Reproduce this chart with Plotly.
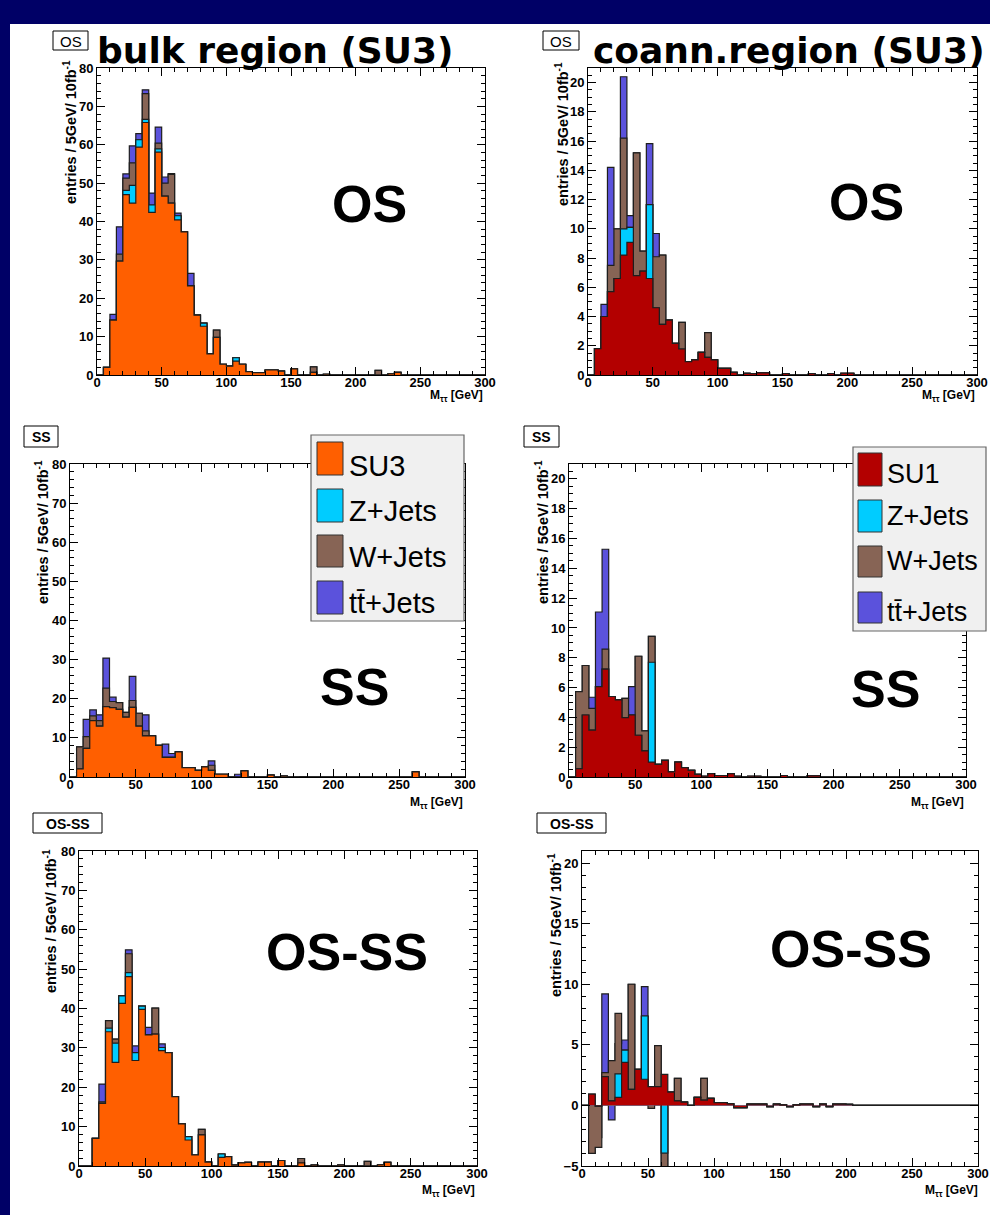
import plotly.graph_objects as go

FIG_W, FIG_H = 990, 1215

# 5 GeV bins from 0 to 300 GeV (61 edges, 60 bins)
BIN_EDGES = [5 * i for i in range(61)]

# ---------------- bulk region (SU3), OS ----------------
bulk_os_su3 = [0, 2.0, 14.3, 29.7, 47.0, 44.8, 59.4, 65.8, 42.4, 58.1,
               46.6, 44.8, 40.4, 37.3, 23.2, 15.6, 12.7, 5.5, 9.8, 2.8,
               2.3, 3.6, 2.8, 0.9, 0.6, 0.6, 1.3, 1.3, 1.0, 0,
               1.6, 0, 0, 0.7, 0, 0.2, 0, 0, 0, 0,
               0, 0, 0, 0, 0, 0.3, 0.7, 0, 0, 0,
               0, 0, 0, 0, 0, 0, 0, 0, 0, 0]
bulk_os_zjets = [0, 0, 0, 0, 1.1, 4.6, 1.9, 0.8, 1.9, 0.8,
                 0, 0, 1.1, 0, 0, 0, 0.8, 0, 0, 0,
                 0, 0.9, 0, 0, 0, 0, 0, 0, 0, 0,
                 0, 0, 0, 0, 0, 0, 0, 0, 0, 0,
                 0, 0, 0, 0, 0, 0, 0, 0, 0, 0,
                 0, 0, 0, 0, 0, 0, 0, 0, 0, 0]
bulk_os_wjets = [0, 0, 0, 1.8, 3.2, 5.9, 0, 6.7, 0, 1.5,
                 3.4, 7.5, 0, 0, 0, 0, 0, 0, 1.9, 0,
                 0, 0, 0, 0, 0, 0, 0, 0, 0, 0,
                 0, 0, 0, 1.4, 0, 0, 0, 0, 0, 0,
                 0, 0, 0, 1.2, 0, 0, 0, 0, 0, 0,
                 0, 0, 0, 0, 0, 0, 0, 0, 0, 0]
bulk_os_ttjets = [0, 0, 1.5, 7.1, 1.1, 4.4, 1.6, 1.0, 3.1, 4.2,
                  1.6, 0.2, 0.7, 0, 3.3, 0, 0, 0, 0, 0,
                  0, 0, 0, 0, 0, 0, 0, 0, 0, 0,
                  0, 0, 0, 0, 0, 0, 0, 0, 0, 0,
                  0, 0, 0, 0, 0, 0, 0, 0, 0, 0,
                  0, 0, 0, 0, 0, 0, 0, 0, 0, 0]

# ---------------- coann. region, OS ----------------
coann_os_su1 = [0, 1.8, 4.0, 5.7, 6.6, 8.2, 9.07, 6.8, 7.1, 6.6,
                4.6, 3.46, 3.76, 2.16, 1.78, 0.91, 1.03, 1.55, 1.2, 1.03,
                0.46, 0.46, 0.18, 0, 0.11, 0.1, 0.15, 0.15, 0, 0,
                0.1, 0, 0, 0, 0.1, 0, 0, 0.1, 0, 0.12,
                0.12, 0, 0, 0, 0, 0, 0, 0, 0, 0,
                0, 0, 0, 0, 0, 0, 0, 0, 0, 0]
coann_os_zjets = [0, 0, 0, 0, 0, 1.8, 1.03, 0, 0, 5.06,
                  0, 0, 0, 0, 0, 0, 0, 0, 0, 0,
                  0, 0, 0, 0, 0, 0, 0, 0, 0, 0,
                  0, 0, 0, 0, 0, 0, 0, 0, 0, 0,
                  0, 0, 0, 0, 0, 0, 0, 0, 0, 0,
                  0, 0, 0, 0, 0, 0, 0, 0, 0, 0]
coann_os_wjets = [0, 0, 0, 1.8, 3.4, 6.2, 0, 8.4, 1.37, 0,
                  3.49, 4.74, 0, 0, 1.82, 0, 0, 0, 1.7, 0,
                  0, 0, 0, 0, 0, 0, 0, 0, 0, 0,
                  0, 0, 0, 0, 0, 0, 0, 0, 0, 0,
                  0, 0, 0, 0, 0, 0, 0, 0, 0, 0,
                  0, 0, 0, 0, 0, 0, 0, 0, 0, 0]
coann_os_ttjets = [0, 0, 0.83, 6.7, 0, 4.2, 0.8, 0, 0, 4.17,
                   1.59, 0, 0, 0, 0, 0, 0, 0, 0, 0,
                   0, 0, 0, 0, 0, 0, 0, 0, 0, 0,
                   0, 0, 0, 0, 0, 0, 0, 0, 0, 0,
                   0, 0, 0, 0, 0, 0, 0, 0, 0, 0,
                   0, 0, 0, 0, 0, 0, 0, 0, 0, 0]

# ---------------- bulk region, SS ----------------
bulk_ss_su3 = [0, 2.1, 7.3, 14.4, 13.0, 18.0, 17.75, 17.3, 15.3, 17.8,
               13.0, 10.5, 10.5, 8.1, 5.0, 5.0, 6.4, 2.4, 2.4, 1.7,
               2.6, 1.7, 0.7, 0.7, 0, 0, 1.55, 0, 0, 0,
               0.5, 0, 0.2, 0, 0, 0.1, 0, 0, 0, 0,
               0, 0, 0, 0, 0, 0, 0, 0, 0, 0,
               0, 0, 1.3, 0, 0, 0, 0, 0, 0, 0]
bulk_ss_zjets = [0, 0, 0, 0, 0, 0, 0, 0, 0, 0,
                 0, 0, 0, 0, 0, 0, 0, 0, 0, 0,
                 0, 0, 0, 0, 0, 0, 0, 0, 0, 0,
                 0, 0, 0, 0, 0, 0, 0, 0, 0, 0,
                 0, 0, 0, 0, 0, 0, 0, 0, 0, 0,
                 0, 0, 0, 0, 0, 0, 0, 0, 0, 0]
bulk_ss_wjets = [0, 5.6, 3.0, 1.2, 1.4, 4.7, 1.55, 1.7, 1.2, 1.75,
                 3.3, 1.3, 0, 0, 0, 0, 0, 0, 0, 0,
                 0, 1.3, 0, 0, 0, 0, 0, 0, 0, 0,
                 0, 0, 0, 0, 0, 0, 0, 0, 0, 0,
                 0, 0, 0, 0, 0, 0, 0, 0, 0, 0,
                 0, 0, 0, 0, 0, 0, 0, 0, 0, 0]
bulk_ss_ttjets = [0, 0, 4.45, 1.55, 1.5, 7.7, 1.1, 0, 0, 6.15,
                  0, 4.1, 0, 0, 3.4, 1.0, 0, 0, 0, 0,
                  0, 1.1, 0, 0, 0, 0.7, 0, 0, 0, 0,
                  0, 0, 0, 0, 0, 0, 0, 0, 0, 0,
                  0, 0, 0, 0, 0, 0, 0, 0, 0, 0,
                  0, 0, 0, 0, 0, 0, 0, 0, 0, 0]

# ---------------- coann. region, SS ----------------
coann_ss_su1 = [0, 0.56, 4.16, 3.15, 6.07, 7.24, 5.4, 5.17, 3.98, 4.16,
                2.8, 1.75, 1.0, 0.85, 1.12, 0.34, 1.0, 0.63, 0.45, 0.18,
                0.05, 0.22, 0.1, 0.1, 0.22, 0.05, 0, 0.05, 0.05, 0,
                0, 0, 0.1, 0, 0, 0, 0.08, 0.08, 0, 0,
                0, 0, 0, 0, 0, 0, 0, 0, 0, 0,
                0, 0, 0, 0, 0, 0, 0, 0, 0, 0]
coann_ss_zjets = [0, 0, 0, 0, 0, 0, 0, 0, 0, 0,
                  0, 0, 6.7, 0, 0, 0, 0, 0, 0, 0,
                  0, 0, 0, 0, 0, 0, 0, 0, 0, 0,
                  0, 0, 0, 0, 0, 0, 0, 0, 0, 0,
                  0, 0, 0, 0, 0, 0, 0, 0, 0, 0,
                  0, 0, 0, 0, 0, 0, 0, 0, 0, 0]
coann_ss_wjets = [0, 5.17, 3.32, 1.45, 0, 1.34, 0, 0, 1.3, 0,
                  5.3, 1.35, 1.74, 0, 0, 0, 0, 0, 0, 0,
                  0, 0, 0, 0, 0, 0, 0, 0, 0, 0,
                  0, 0, 0, 0, 0, 0, 0, 0, 0, 0,
                  0, 0, 0, 0, 0, 0, 0, 0, 0, 0,
                  0, 0, 0, 0, 0, 0, 0, 0, 0, 0]
coann_ss_ttjets = [0, 0, 0, 0.75, 5.0, 6.7, 0, 0, 0, 1.9,
                   0, 0, 0, 0, 0, 0, 0, 0, 0, 0,
                   0, 0, 0, 0, 0, 0, 0, 0, 0, 0,
                   0, 0, 0, 0, 0, 0, 0, 0, 0, 0,
                   0, 0, 0, 0, 0, 0, 0, 0, 0, 0,
                   0, 0, 0, 0, 0, 0, 0, 0, 0, 0]

# ---------------- bulk region, OS-SS ----------------
bulk_diff_su3 = [0, 0, 7.0, 15.9, 34.1, 26.3, 41.3, 48.1, 26.8, 39.8,
                 33.3, 33.5, 29.3, 28.8, 17.6, 10.7, 6.6, 2.8, 7.9, 1.0,
                 0, 2.2, 2.4, 0.2, 0.8, 0.9, 0, 1.0, 1.0, 0,
                 1.4, 0, 0, 0.8, 0, 0.2, 0, 0, 0, 0.2,
                 0, 0, 0, 0, 0, 0.3, 0.9, 0, 0, 0,
                 0, 0, 0, 0, 0, 0, 0, 0, 0, 0]
bulk_diff_zjets = [0, 0, 0, 0, 0.9, 4.9, 1.9, 1.0, 2.0, 0.8,
                   0, 0, 0.8, 0, 0, 0, 0.85, 0, 0, 0,
                   0, 0.85, 0, 0, 0, 0, 0, 0, 0, 0,
                   0, 0, 0, 0, 0, 0, 0, 0, 0, 0,
                   0, 0, 0, 0, 0, 0, 0, 0, 0, 0,
                   0, 0, 0, 0, 0, 0, 0, 0, 0, 0]
bulk_diff_wjets = [0, 0, 0, 0.4, 1.9, 1.0, 0, 4.8, 0, 0,
                   0, 6.6, 0, 0, 0, 0, 0, 0, 1.4, 0,
                   0, 0, 0, 0, 0, 0, 0, 0, 0, 0,
                   0, 0, 0, 1.1, 0, 0, 0, 0, 0, 0,
                   0, 0, 0, 1.2, 0, 0, 0, 0, 0, 0,
                   0, 0, 0, 0, 0, 0, 0, 0, 0, 0]
bulk_diff_ttjets = [0, 0, 0, 4.5, 0, 0, 0, 1.0, 1.7, 0,
                    1.9, 0, 0.9, 0, 0, 0, 0, 0, 0, 0,
                    0, 0, 0, 0, 0, 0, 0, 0, 0, 0,
                    0, 0, 0, 0, 0, 0, 0, 0, 0, 0,
                    0, 0, 0, 0, 0, 0, 0, 0, 0, 0,
                    0, 0, 0, 0, 0, 0, 0, 0, 0, 0]

# ---------------- coann. region, OS-SS ----------------
coann_diff_su1 = [0, 0.94, -0.05, 2.37, 0.37, 0.67, 3.55, 1.33, 2.97, 2.16,
                  1.55, 1.55, 2.56, 1.1, 0.37, 0.27, 0.0, 0.66, 0.44, 0.58,
                  0.23, 0.23, 0.12, -0.18, -0.18, 0.1, 0.1, 0.1, -0.1, 0.1,
                  0.05, -0.1, 0.05, 0.1, 0.1, -0.1, 0.1, -0.1, 0.1, 0.1,
                  0.08, 0, 0, 0, 0, 0, 0, 0, 0, 0,
                  0, 0, 0, 0, 0, 0, 0, 0, 0, 0]
coann_diff_zjets = [0, 0, 0, 0, 0, 1.93, 1.02, 0, 0, 5.22,
                    0, 0, -6.5, 0, 0, 0, 0, 0, 0, 0,
                    0, 0, 0, 0, 0, 0, 0, 0, 0, 0,
                    0, 0, 0, 0, 0, 0, 0, 0, 0, 0,
                    0, 0, 0, 0, 0, 0, 0, 0, 0, 0,
                    0, 0, 0, 0, 0, 0, 0, 0, 0, 0]
coann_diff_wjets = [0, -4.89, -3.41, 0.33, 3.33, 5.0, 0, 8.67, 0, 0,
                    -1.8, 3.39, -1.74, 0, 1.87, 0, 0, 0, 1.8, 0,
                    0, 0, 0, 0, 0, 0, 0, 0, 0, 0,
                    0, 0, 0, 0, 0, 0, 0, 0, 0, 0,
                    0, 0, 0, 0, 0, 0, 0, 0, 0, 0,
                    0, 0, 0, 0, 0, 0, 0, 0, 0, 0]
coann_diff_ttjets = [0, 0, 0.8, 6.5, -4.9, -2.5, 0.83, 0, 0, 2.42,
                     1.59, 0, 0, 0, 0, 0, 0, 0, 0, 0,
                     0, 0, 0, 0, 0, 0, 0, 0, 0, 0,
                     0, 0, 0, 0, 0, 0, 0, 0, 0, 0,
                     0, 0, 0, 0, 0, 0, 0, 0, 0, 0,
                     0, 0, 0, 0, 0, 0, 0, 0, 0, 0]

LEGEND_BULK = ["SU3", "Z+Jets", "W+Jets", "tt\u0304+Jets"]
LEGEND_COANN = ["SU1", "Z+Jets", "W+Jets", "tt\u0304+Jets"]

# ---------------- styles ----------------
COL_SU3 = "#ff5f00"
COL_SU1 = "#b30000"
COL_Z = "#00ccff"
COL_W = "#876455"
COL_TT = "#5b52dc"
NAVY = "#000066"
OUTLINE = "#1e1e1e"

ARIAL = "Liberation Sans"
WIDE = "DejaVu Sans"


def px(x):
    return x / FIG_W


def py(y):
    return 1 - y / FIG_H


panels = [
    dict(comp=(bulk_os_su3, bulk_os_zjets, bulk_os_wjets, bulk_os_ttjets), sig=COL_SU3,
         frame=(97, 68, 485, 375), yr=[0, 80], dt=10, mdt=2, t0=0,
         tag="OS", tagbox=(53, 31, 88, 50), tagbold=False,
         big="OS", bigpos=(369, 202), ytit=(70, 132), xtit=(485, 396)),
    dict(comp=(coann_os_su1, coann_os_zjets, coann_os_wjets, coann_os_ttjets), sig=COL_SU1,
         frame=(588, 68, 977, 375), yr=[0, 21], dt=2, mdt=0.5, t0=0,
         tag="OS", tagbox=(543, 31, 579, 50), tagbold=False,
         big="OS", bigpos=(866, 200), ytit=(562, 134), xtit=(977, 396)),
    dict(comp=(bulk_ss_su3, bulk_ss_zjets, bulk_ss_wjets, bulk_ss_ttjets), sig=COL_SU3,
         frame=(70, 464, 465, 777), yr=[0, 80], dt=10, mdt=2, t0=0,
         tag="SS", tagbox=(24, 426, 58, 447), tagbold=True,
         big="SS", bigpos=(354, 685), ytit=(42, 532), xtit=(465, 803)),
    dict(comp=(coann_ss_su1, coann_ss_zjets, coann_ss_wjets, coann_ss_ttjets), sig=COL_SU1,
         frame=(569, 464, 966, 777), yr=[0, 21], dt=2, mdt=0.5, t0=0,
         tag="SS", tagbox=(524, 426, 559, 447), tagbold=True,
         big="SS", bigpos=(885, 687), ytit=(542, 532), xtit=(966, 803)),
    dict(comp=(bulk_diff_su3, bulk_diff_zjets, bulk_diff_wjets, bulk_diff_ttjets), sig=COL_SU3,
         frame=(79, 851, 477, 1166), yr=[0, 80], dt=10, mdt=2, t0=0,
         tag="OS-SS", tagbox=(33, 813, 102, 833), tagbold=True,
         big="OS-SS", bigpos=(347, 950), ytit=(50, 921), xtit=(477, 1191)),
    dict(comp=(coann_diff_su1, coann_diff_zjets, coann_diff_wjets, coann_diff_ttjets), sig=COL_SU1,
         frame=(582, 851, 978, 1166), yr=[-5, 21], dt=5, mdt=1, t0=-5,
         tag="OS-SS", tagbox=(537, 813, 606, 833), tagbold=True,
         big="OS-SS", bigpos=(851, 947), ytit=(555, 925), xtit=(980, 1191)),
]

fig = go.Figure()
layout = dict(
    width=FIG_W, height=FIG_H,
    margin=dict(l=0, r=0, t=0, b=0, pad=0, autoexpand=False),
    paper_bgcolor=NAVY, plot_bgcolor="white", showlegend=False,
    shapes=[], annotations=[],
)

layout["shapes"].append(dict(type="rect", xref="paper", yref="paper",
                             x0=px(10), x1=1.0, y0=0.0, y1=py(24),
                             fillcolor="white", line=dict(width=0), layer="below"))

tickfont = dict(family=ARIAL, size=13, color="black", weight="bold")

for i, p in enumerate(panels, start=1):
    s = "" if i == 1 else str(i)
    sig, zj, wj, tt = p["comp"]
    c1 = [a for a in sig]
    c2 = [a + b for a, b in zip(c1, zj)]
    c3 = [a + b for a, b in zip(c2, wj)]
    c4 = [a + b for a, b in zip(c3, tt)]
    for vals, col in ((c4, COL_TT), (c3, COL_W), (c2, COL_Z), (c1, p["sig"])):
        fig.add_trace(go.Scatter(
            x=BIN_EDGES, y=list(vals) + [vals[-1]], mode="lines",
            line=dict(shape="hv", color=OUTLINE, width=1.2),
            fill="tozeroy", fillcolor=col, hoverinfo="skip",
            xaxis="x" + s, yaxis="y" + s))
    x0, y0, x1, y1 = p["frame"]
    layout["xaxis" + s] = dict(
        domain=[px(x0), px(x1)], anchor="y" + s, range=[0, 300], automargin=False,
        showline=True, linecolor="black", linewidth=1, mirror="ticks",
        ticks="inside", ticklen=8, tickwidth=1, tickcolor="black",
        tick0=0, dtick=50, showgrid=False, zeroline=False,
        ticklabeloverflow="allow", ticklabelstandoff=-5,
        minor=dict(ticks="inside", ticklen=4, tickwidth=1, tickcolor="black",
                   tick0=0, dtick=10, showgrid=False),
        tickfont=tickfont, fixedrange=True)
    layout["yaxis" + s] = dict(
        domain=[py(y1), py(y0)], anchor="x" + s, range=p["yr"], automargin=False,
        showline=True, linecolor="black", linewidth=1, mirror="ticks",
        ticks="inside", ticklen=8, tickwidth=1, tickcolor="black",
        tick0=p["t0"], dtick=p["dt"], showgrid=False, zeroline=False,
        ticklabeloverflow="allow",
        minor=dict(ticks="inside", ticklen=4, tickwidth=1, tickcolor="black",
                   tick0=p["t0"], dtick=p["mdt"], showgrid=False),
        tickfont=tickfont, fixedrange=True)

    # small tag box
    bx0, by0, bx1, by1 = p["tagbox"]
    layout["shapes"].append(dict(type="rect", xref="paper", yref="paper",
                                 x0=px(bx0), x1=px(bx1), y0=py(by1), y1=py(by0),
                                 fillcolor="white", line=dict(color="black", width=1),
                                 layer="above"))
    layout["annotations"].append(dict(
        text=p["tag"], x=px((bx0 + bx1) / 2), y=py((by0 + by1) / 2 + 1),
        xref="paper", yref="paper", showarrow=False, xanchor="center", yanchor="middle",
        font=dict(family=ARIAL, size=14 if p["tagbold"] else 15, color="black",
                  weight="bold" if p["tagbold"] else "normal")))
    # big label
    bx, by = p["bigpos"]
    layout["annotations"].append(dict(
        text=p["big"], x=px(bx), y=py(by + 2), xref="paper", yref="paper",
        showarrow=False, xanchor="center", yanchor="middle",
        font=dict(family=ARIAL, size=52, color="black", weight="bold")))
    # y title
    tx, ty = p["ytit"]
    layout["annotations"].append(dict(
        text="entries / 5GeV/ 10fb<sup>-1</sup>", x=px(tx), y=py(ty), textangle=-90,
        xref="paper", yref="paper", showarrow=False, xanchor="center", yanchor="middle",
        font=dict(family=ARIAL, size=14.5, color="black", weight="bold")))
    # x title
    tx, ty = p["xtit"]
    layout["annotations"].append(dict(
        text="M<sub>\u03c4\u03c4</sub> [GeV]", x=px(tx), y=py(ty),
        xref="paper", yref="paper", showarrow=False, xanchor="right", yanchor="middle",
        font=dict(family=ARIAL, size=12, color="black", weight="bold")))

# top titles
for txt, x in (("bulk region (SU3)", 95), ("coann.region (SU3)", 591)):
    layout["annotations"].append(dict(
        text=txt, x=px(x), y=py(51), xref="paper", yref="paper", showarrow=False,
        xanchor="left", yanchor="middle",
        font=dict(family=WIDE, size=36, color="black", weight="bold")))

# legends drawn as boxes + swatches + labels
legend_specs = [
    dict(box=(311, 435, 464, 621), sw_x=(317, 343),
         sw_y=[(442, 475), (489, 522), (535, 567), (581, 614)],
         text_x=347, text_y=[466, 511, 557, 603], labels=LEGEND_BULK,
         colors=[COL_SU3, COL_Z, COL_W, COL_TT], font=(ARIAL, 29)),
    dict(box=(853, 447, 986, 631), sw_x=(858, 882),
         sw_y=[(453, 486), (500, 532), (546, 577), (592, 623)],
         text_x=885, text_y=[474, 516, 561, 612], labels=LEGEND_COANN,
         colors=[COL_SU1, COL_Z, COL_W, COL_TT], font=(ARIAL, 27)),
]
for L in legend_specs:
    x0, y0, x1, y1 = L["box"]
    layout["shapes"].append(dict(type="rect", xref="paper", yref="paper",
                                 x0=px(x0), x1=px(x1), y0=py(y1), y1=py(y0),
                                 fillcolor="#f0f0f0", line=dict(color="#666666", width=1.2),
                                 layer="above"))
    for (sy0, sy1), col, lab, ty in zip(L["sw_y"], L["colors"], L["labels"], L["text_y"]):
        layout["shapes"].append(dict(type="rect", xref="paper", yref="paper",
                                     x0=px(L["sw_x"][0]), x1=px(L["sw_x"][1]),
                                     y0=py(sy1), y1=py(sy0), fillcolor=col,
                                     line=dict(color="#333333", width=1), layer="above"))
        layout["annotations"].append(dict(
            text=lab, x=px(L["text_x"]), y=py(ty), xref="paper", yref="paper",
            showarrow=False, xanchor="left", yanchor="middle",
            font=dict(family=L["font"][0], size=L["font"][1], color="black")))

fig.update_layout(**layout)
fig.write_html("out.html")
